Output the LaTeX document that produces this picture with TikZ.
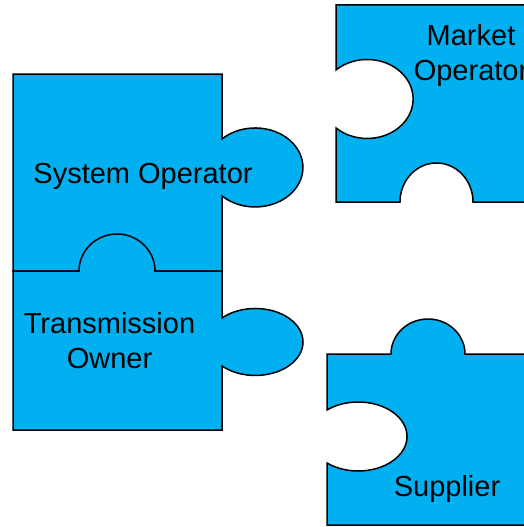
\documentclass[tikz,border=0pt]{standalone}
\usepackage{fontspec}
\setmainfont{Liberation Sans}
\definecolor{puzzleblue}{HTML}{00B0F0}

\begin{document}
\begin{tikzpicture}[
    x=1pt, y=-1pt,
    piece/.style={fill=puzzleblue, draw=black, line width=1.5pt},
    plabel/.style={font=\fontsize{29}{35}\selectfont, align=center, anchor=base, inner sep=0pt},
  ]
    \clip (0,0) rectangle (524,527);
    % system operator: its bottom socket is filled by the tab of the piece below
    \draw[piece] (13,74) -- (222,74) -- (222,139)
      arc[start angle=-133.9, end angle=133.9, x radius=47.8, y radius=39.5]
      -- (222,271) -- (13,271) -- cycle;
    % transmission owner, tab on top, knob on the right
    \draw[piece] (13,271) -- (79,271)
      arc[start angle=180, end angle=360, x radius=38, y radius=37]
      -- (222,271) -- (222,318)
      arc[start angle=-134.3, end angle=134.3, x radius=47.7, y radius=33.5]
      -- (222,430) -- (13,430) -- cycle;
    % market operator, sockets left and bottom
    \draw[piece] (540,5) -- (336,5) -- (336,70)
      arc[start angle=-132.8, end angle=132.8, x radius=45.9, y radius=39.5]
      -- (336,202) -- (400,202)
      arc[start angle=180, end angle=360, x radius=36.5, y radius=39]
      -- (540,202) -- cycle;
    % supplier, tab on top, socket on the left
    \draw[piece] (327,354) -- (391,354)
      arc[start angle=180, end angle=360, x radius=37, y radius=35]
      -- (540,354) -- (540,525) -- (327,525) -- (327,463)
      arc[start angle=129.8, end angle=-129.8, x radius=48.8, y radius=34.5]
      -- cycle;

    % base of a two-line label is the baseline of its last line
    \node[plabel] (so)  at (143,183)   {System Operator};
    \node[plabel] (to)  at (109.5,368) {Transmission\\Owner};
    \node[plabel] (mo)  at (471,80)    {Market\\Operator};
    \node[plabel] (sup) at (447,496)   {Supplier};
\end{tikzpicture}
\end{document}
